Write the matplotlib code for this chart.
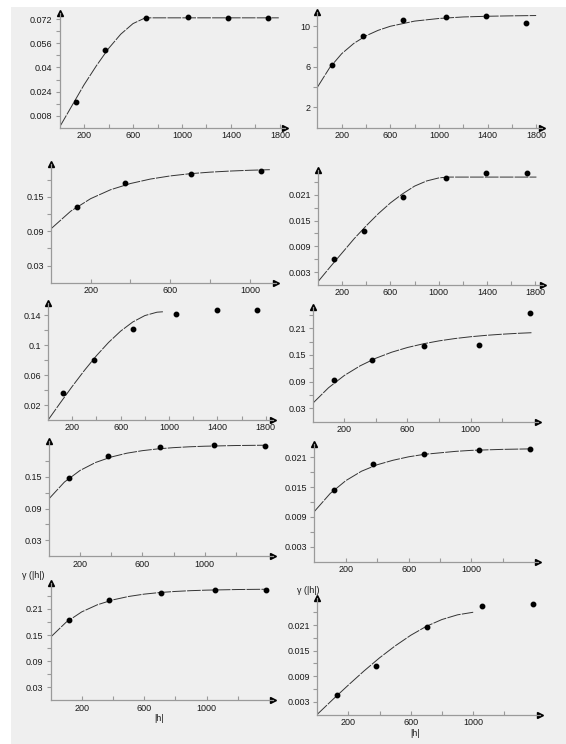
import matplotlib
matplotlib.use("Agg")
import matplotlib.pyplot as plt
from matplotlib.patches import Rectangle

plt.rcParams['font.family'] = ['Liberation Sans', 'DejaVu Sans']

# experimental variogram points (lag |h|, gamma) and fitted model curves, one set per panel
lag1 = [135, 374, 703, 1051, 1373, 1700]
gam1 = [0.0175, 0.0514, 0.0728, 0.0734, 0.0730, 0.0724]
mlag1 = [0, 100, 200, 300, 400, 500, 600, 700, 1790]
mgam1 = [0.0005, 0.0145, 0.0285, 0.0410, 0.0525, 0.0620, 0.0690, 0.0728, 0.0728]

lag2 = [118, 373, 707, 1055, 1385, 1717]
gam2 = [6.19, 9.05, 10.59, 10.89, 11.03, 10.3]
mlag2 = [0, 100, 200, 300, 400, 500, 600, 800, 1000, 1200, 1400, 1600, 1800]
mgam2 = [4.0, 5.91, 7.31, 8.33, 9.08, 9.62, 10.02, 10.53, 10.79, 10.94, 11.01, 11.05, 11.08]

lag3 = [130, 375, 706, 1054]
gam3 = [0.1325, 0.175, 0.191, 0.196]
mlag3 = [0, 100, 200, 300, 400, 500, 600, 700, 800, 900, 1000, 1100]
mgam3 = [0.094, 0.1251, 0.1470, 0.1626, 0.1735, 0.1813, 0.1868, 0.1907, 0.1934, 0.1953, 0.1967, 0.1977]

lag4 = [132, 380, 708, 1059, 1392, 1729]
gam4 = [0.006, 0.0125, 0.0205, 0.025, 0.0261, 0.026]
mlag4 = [0, 100, 200, 300, 400, 500, 600, 700, 800, 900, 1000, 1070, 1810]
mgam4 = [0.0008, 0.0042, 0.0075, 0.0108, 0.0138, 0.0166, 0.0191, 0.0212, 0.0230, 0.0242, 0.0249, 0.0251, 0.0251]

lag5 = [126, 377, 704, 1057, 1393, 1726]
gam5 = [0.036, 0.081, 0.1223, 0.1423, 0.147, 0.147]
mlag5 = [0, 100, 200, 300, 400, 500, 600, 700, 800, 900, 950]
mgam5 = [0.0, 0.0228, 0.0451, 0.0664, 0.0862, 0.1039, 0.1191, 0.1313, 0.1399, 0.1444, 0.145]

lag6 = [137, 377, 702, 1051, 1373]
gam6 = [0.0936, 0.1394, 0.171, 0.1715, 0.245]
mlag6 = [0, 100, 200, 300, 400, 500, 600, 700, 800, 900, 1000, 1100, 1200, 1300, 1390]
mgam6 = [0.041, 0.0761, 0.1037, 0.1254, 0.1426, 0.1561, 0.1667, 0.1750, 0.1816, 0.1868,
         0.1909, 0.1941, 0.1966, 0.1986, 0.2000]

lag7 = [128, 378, 711, 1059, 1386]
gam7 = [0.147, 0.1885, 0.2066, 0.2098, 0.2085]
mlag7 = [0, 100, 200, 300, 400, 500, 600, 700, 800, 900, 1000, 1200, 1395]
mgam7 = [0.108, 0.1399, 0.1618, 0.1769, 0.1872, 0.1944, 0.1992, 0.2026, 0.2049, 0.2065, 0.2076, 0.2089, 0.2095]

lag8 = [127, 373, 700, 1050, 1375]
gam8 = [0.01446, 0.01965, 0.0216, 0.0224, 0.0227]
mlag8 = [0, 100, 200, 300, 400, 500, 600, 700, 800, 900, 1000, 1200, 1383]
mgam8 = [0.0101, 0.0137, 0.0163, 0.0182, 0.0195, 0.0204, 0.0211, 0.0216, 0.0219, 0.0222, 0.0224, 0.0226, 0.0227]

lag9 = [120, 373, 706, 1054, 1381]
gam9 = [0.1847, 0.2307, 0.2475, 0.2544, 0.2544]
mlag9 = [0, 100, 200, 300, 400, 500, 600, 700, 800, 900, 1000, 1200, 1400]
mgam9 = [0.145, 0.1795, 0.2033, 0.2196, 0.2309, 0.2387, 0.2441, 0.2478, 0.2503, 0.2521, 0.2533, 0.2547, 0.2554]

lag10 = [129, 375, 704, 1055, 1384]
gam10 = [0.0045, 0.0114, 0.0205, 0.0254, 0.0259]
mlag10 = [0, 100, 200, 300, 400, 500, 600, 700, 800, 900, 1000]
mgam10 = [0.0, 0.0035, 0.0069, 0.0102, 0.0133, 0.0161, 0.0186, 0.0207, 0.0223, 0.0234, 0.0240]

# tick values: labelled x ticks, plain x ticks, labelled y ticks, plain y ticks
xlab_long = [200, 600, 1000, 1400, 1800]
xmin_long = [400, 800, 1200, 1600]
xlab_short = [200, 600, 1000]
xmin_short = [400, 800, 1200]
xmin_p3 = [400, 800]

ylab1 = [0.008, 0.024, 0.04, 0.056, 0.072]
ymin1 = [0.016, 0.032, 0.048, 0.064]
ylab2 = [2, 6, 10]
ymin2 = [4, 8]
ylab3 = [0.03, 0.09, 0.15]
ymin3 = [0.06, 0.12, 0.18]
ylab4 = [0.003, 0.009, 0.015, 0.021]
ymin4 = [0.006, 0.012, 0.018, 0.024]
ylab5 = [0.02, 0.06, 0.1, 0.14]
ymin5 = [0.04, 0.08, 0.12]
ylab6 = [0.03, 0.09, 0.15, 0.21]
ymin6 = [0.06, 0.12, 0.18, 0.24]
ylab7 = [0.03, 0.09, 0.15]
ymin7 = [0.06, 0.12, 0.18]
ylab8 = [0.003, 0.009, 0.015, 0.021]
ymin8 = [0.006, 0.012, 0.018]
ylab9 = [0.03, 0.09, 0.15, 0.21]
ymin9 = [0.06, 0.12, 0.18, 0.24]
ylab10 = [0.003, 0.009, 0.015, 0.021]
ymin10 = [0.006, 0.012, 0.018, 0.024]

W, H = 566, 744
fig = plt.figure(figsize=(W / 100, H / 100), dpi=100)
fig.patch.set_facecolor('white')
fig.patches.append(Rectangle((11 / W, 0), 1, 1 - 7 / H, transform=fig.transFigure,
                             facecolor='#efefef', edgecolor='none', zorder=-10))

# layout in pixels: left, right, bottom (y=0), top ; plus axis limits
panels = [
    (lag1, gam1, mlag1, mgam1, (59.5, 284.9, 128, 13), 1840, 0.076, xlab_long, xmin_long, ylab1, ymin1),
    (lag2, gam2, mlag2, mgam2, (317.4, 542.2, 127.7, 12.3), 1850, 11.4, xlab_long, xmin_long, ylab2, ymin2),
    (lag3, gam3, mlag3, mgam3, (50.8, 276.2, 282.7, 163.8), 1132, 0.208, xlab_short, xmin_p3, ylab3, ymin3),
    (lag4, gam4, mlag4, mgam4, (318.1, 542.8, 285, 170.2), 1863, 0.0267, xlab_long, xmin_long, ylab4, ymin4),
    (lag5, gam5, mlag5, mgam5, (48.1, 273.2, 420, 303.1), 1861, 0.1566, xlab_long, xmin_long, ylab5, ymin5),
    (lag6, gam6, mlag6, mgam6, (312.7, 538.3, 421.6, 306.9), 1428, 0.258, xlab_short, xmin_short, ylab6, ymin6),
    (lag7, gam7, mlag7, mgam7, (48.8, 273.3, 556.2, 440.7), 1439, 0.218, xlab_short, xmin_short, ylab7, ymin7),
    (lag8, gam8, mlag8, mgam8, (314.4, 538.3, 561.6, 443.9), 1426, 0.0237, xlab_short, xmin_short, ylab8, ymin8),
    (lag9, gam9, mlag9, mgam9, (50.5, 273, 700.35, 583.3), 1426, 0.269, xlab_short, xmin_short, ylab9, ymin9),
    (lag10, gam10, mlag10, mgam10, (317.1, 540, 714.5, 598.2), 1428, 0.0273, xlab_short, xmin_short, ylab10, ymin10),
]

# axis-title spots (axes fraction) for the two bottom panels
ylabel_pos = {8: (-0.077, 1.065), 9: (-0.039, 1.07)}
xlabel_pos = {8: (0.489, -0.153), 9: (0.439, -0.162)}

axcol = '#9a9a9a'
for i, (lx, gy, mx, my, box, xmax, ymax, xl, xm, yl, ym) in enumerate(panels):
    l, r, b, t = box
    ax = fig.add_axes([l / W, 1 - b / H, (r - l) / W, (b - t) / H])
    ax.patch.set_visible(False)
    ax.set_xlim(0, xmax)
    ax.set_ylim(0, ymax)
    for s in ['top', 'right']:
        ax.spines[s].set_visible(False)
    for s in ['left', 'bottom']:
        ax.spines[s].set_color(axcol)
        ax.spines[s].set_linewidth(0.9)

    ax.plot(mx, my, color='#333333', lw=0.7, ls=(0, (14, 1.3)))
    ax.plot(lx, gy, 'o', color='black', ms=3.2, clip_on=False)

    # arrow heads at the axis ends
    ax.plot([1], [0], marker='>', color='black', ms=4.5, transform=ax.transAxes, clip_on=False)
    ax.plot([0], [1], marker='^', color='black', ms=4.5, transform=ax.transAxes, clip_on=False)

    ax.set_xticks(xl)
    ax.set_xticklabels([f"{v:g}" for v in xl])
    ax.set_xticks(xm, minor=True)
    ax.set_yticks(yl)
    ax.set_yticklabels([f"{v:g}" for v in yl])
    ax.set_yticks(ym, minor=True)
    ax.tick_params(axis='x', which='both', direction='in', length=3, width=0.8,
                   color=axcol, labelsize=6.5, labelcolor='#1a1a1a', pad=2.5)
    ax.tick_params(axis='y', which='both', direction='out', length=3, width=0.8,
                   color=axcol, labelsize=6.5, labelcolor='#1a1a1a', pad=2)

    if i in ylabel_pos:
        ax.text(*ylabel_pos[i], "γ (|h|)", transform=ax.transAxes,
                fontsize=6.5, color='#1a1a1a', ha='center', va='center')
        ax.text(*xlabel_pos[i], "|h|", transform=ax.transAxes,
                fontsize=6.5, color='#1a1a1a', ha='center', va='center')

fig.savefig("out.png", dpi=100)
